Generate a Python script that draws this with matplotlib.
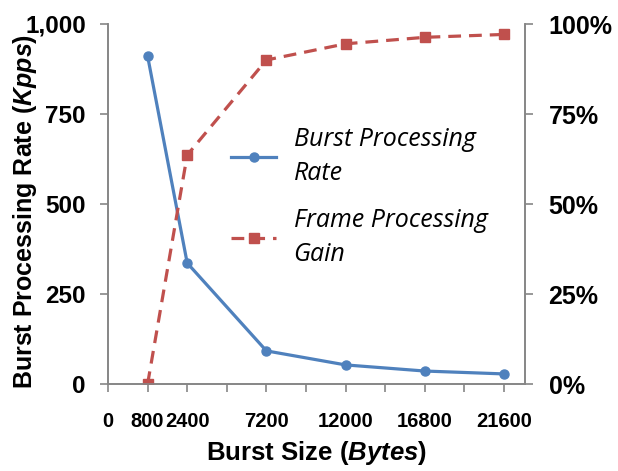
import matplotlib
matplotlib.use("Agg")
from matplotlib import pyplot as plt
from matplotlib.ticker import FuncFormatter

plt.rcParams['font.family'] = ['Liberation Sans', 'DejaVu Sans']
plt.rcParams['mathtext.fontset'] = 'custom'
plt.rcParams['mathtext.it'] = 'Liberation Sans:italic:bold'
plt.rcParams['mathtext.rm'] = 'Liberation Sans:bold'

# data
positions = [1, 2, 4, 6, 8, 10]
tick_pos = [0, 1, 2, 4, 6, 8, 10]
tick_labels = ["0", "800", "2400", "7200", "12000", "16800", "21600"]
rate = [911, 336, 92, 53, 36, 28]
gain = [0.0, 63.6, 90.0, 94.5, 96.3, 97.1]

blue = "#4F81BD"
red = "#C0504D"
grey = "#868686"

fig = plt.figure(figsize=(6.18, 4.71), dpi=100)
ax = fig.add_axes([108/618, 1-384/471, (525-108)/618, 360/471])
ax2 = ax.twinx()

ax.plot(positions, rate, color=blue, lw=2.3, marker="o", ms=6.5,
        label="Burst Processing\nRate", zorder=3)
ax2.plot(positions, gain, color=red, lw=2.3, ls=(0, (4, 2.5)), marker="s", ms=6.5,
         label="Frame Processing\nGain")

ax.set_xlim(0, 10.53)
ax.set_ylim(0, 1000)
ax2.set_ylim(0, 100)
ax.set_yticks([0, 250, 500, 750, 1000])
ax.yaxis.set_major_formatter(FuncFormatter(lambda v, p: f"{int(v):,}"))
ax2.set_yticks([0, 25, 50, 75, 100])
ax2.set_yticklabels(["0%", "25%", "50%", "75%", "100%"])

ax.set_xticks(range(0, 11))
ax.set_xticklabels([tick_labels[tick_pos.index(i)] if i in tick_pos else "" for i in range(11)])

for a in (ax, ax2):
    a.spines['top'].set_visible(False)
    for s in ('left', 'right', 'bottom'):
        a.spines[s].set_color(grey)
        a.spines[s].set_linewidth(1.2)
    a.tick_params(colors=grey, labelcolor="black", length=6, width=1.2)
    for t in a.get_xticklabels() + a.get_yticklabels():
        t.set_fontweight("bold")
ax.tick_params(axis='x', labelsize=14.5, pad=14)
ax.tick_params(axis='y', labelsize=17.5, pad=10)
ax2.tick_params(axis='y', labelsize=18, pad=11)

ax.set_xlabel("Burst Size ($\\mathit{Bytes}$)", fontsize=18.5, fontweight="bold", labelpad=6)
ax.set_ylabel("Burst Processing Rate ($\\mathit{Kpps}$)", fontsize=18, fontweight="bold")
ax.yaxis.set_label_coords(-0.165, 0.48)

h1, l1 = ax.get_legend_handles_labels()
h2, l2 = ax2.get_legend_handles_labels()
leg = ax2.legend(h1 + h2, l1 + l2, loc="center left", bbox_to_anchor=(0.265, 0.52),
                 frameon=False, prop={'family': ['Open Sans', 'DejaVu Sans'], 'style': 'italic', 'size': 18},
                 handlelength=1.8, labelspacing=0.9, handletextpad=0.7, borderpad=0)
for t in leg.get_texts():
    t.set_linespacing(1.45)

fig.savefig("out.png", dpi=100)
